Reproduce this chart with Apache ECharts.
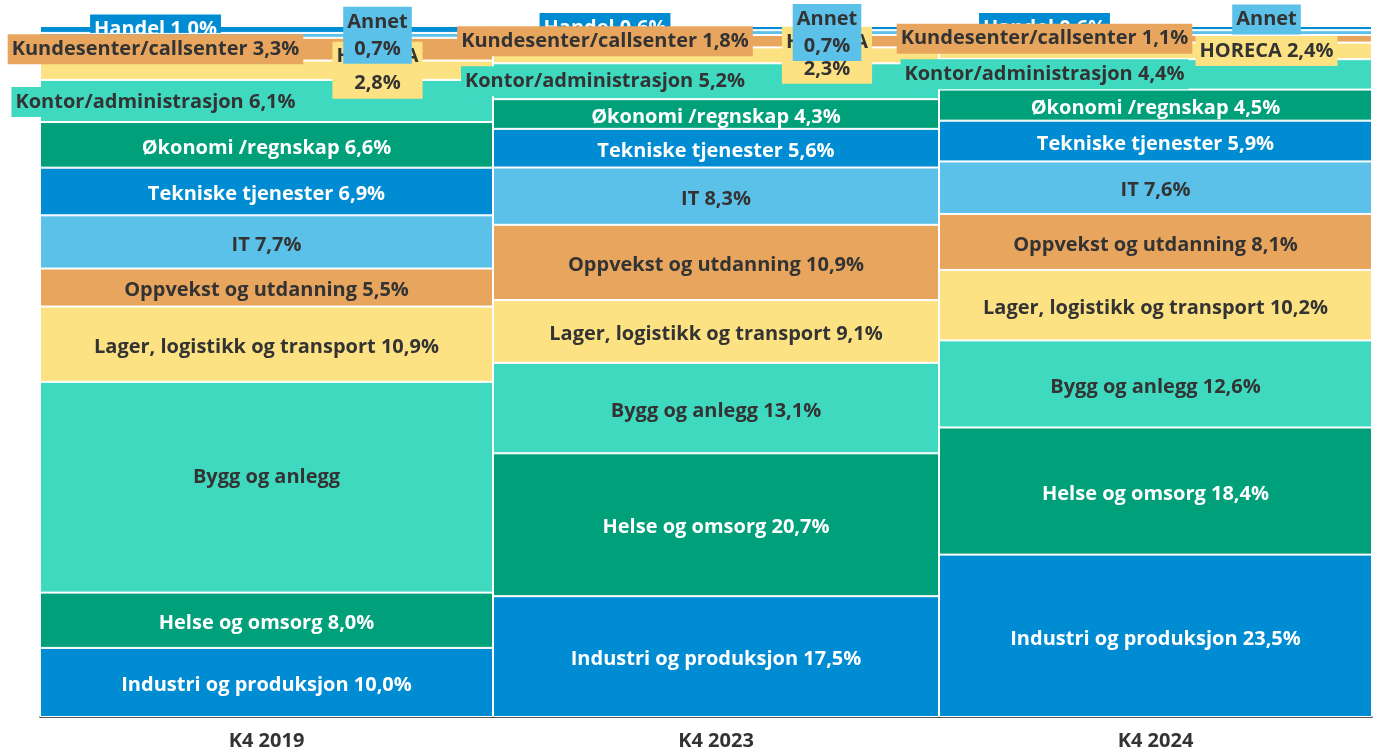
<!DOCTYPE html>
<html>
<head>
<meta charset="utf-8">
<script src="https://cdn.jsdelivr.net/npm/echarts@6/dist/echarts.min.js"></script>
<style>
html,body{margin:0;padding:0;background:#fff;}
#chart{width:1377px;height:754px;}
</style>
</head>
<body>
<div id="chart"></div>
<script>
const categories = ['K4 2019', 'K4 2023', 'K4 2024'];
const seriesNames = ['Industri og produksjon', 'Helse og omsorg', 'Bygg og anlegg',
  'Lager, logistikk og transport', 'Oppvekst og utdanning', 'IT', 'Tekniske tjenester',
  'Økonomi /regnskap', 'Kontor/administrasjon', 'HORECA', 'Kundesenter/callsenter', 'Annet', 'Handel'];
const industri = [10.0, 17.5, 23.5];
const helse = [8.0, 20.7, 18.4];
const bygg = [30.5, 13.1, 12.6];
const lager = [10.9, 9.1, 10.2];
const oppvekst = [5.5, 10.9, 8.1];
const it = [7.7, 8.3, 7.6];
const tekniske = [6.9, 5.6, 5.9];
const okonomi = [6.6, 4.3, 4.5];
const kontor = [6.1, 5.2, 4.4];
const horeca = [2.8, 2.3, 2.4];
const kundesenter = [3.3, 1.8, 1.1];
const annet = [0.7, 0.7, 0.7];
const handel = [1.0, 0.6, 0.6];

const values = [industri, helse, bygg, lager, oppvekst, it, tekniske, okonomi, kontor, horeca, kundesenter, annet, handel];

const palette = ['#008CD2', '#00A07A', '#3FD9C0', '#FDE283', '#E8A55E', '#5BC1E8'];
const darkText = '#333333';
const colors = values.map((_, i) => palette[i % 6]);
const textColors = colors.map(c => (c === '#008CD2' || c === '#00A07A') ? '#ffffff' : darkText);

const totals = categories.map((_, j) => values.reduce((s, arr) => s + arr[j], 0));
const fmt = v => v.toFixed(1).replace('.', ',') + '%';

// layout of the three columns (style only)
const colEdges = [40, 493, 939, 1372];
const OFF = 111;
const labelCfg = {
  'Handel': [{dx: -OFF}, {dx: -OFF}, {dx: -OFF}],
  'Kundesenter/callsenter': [{dx: -OFF}, {dx: -OFF}, {dx: -OFF}],
  'Kontor/administrasjon': [{dx: -OFF, dy: 1}, {dx: -OFF}, {dx: -OFF}],
  'HORECA': [{dx: OFF, br: true}, {dx: OFF, br: true}, {dx: OFF}],
  'Annet': [{dx: OFF, br: true}, {dx: OFF, br: true}, {dx: OFF, dy: -13, nameOnly: true}],
  'Bygg og anlegg': [{nameOnly: true, dy: -10}, {}, {}]
};
const zOrder = {'Handel': 1};

const grids = [], xAxes = [], yAxes = [], series = [];
categories.forEach((cat, j) => {
  grids.push({left: colEdges[j], width: colEdges[j + 1] - colEdges[j], top: 26, bottom: 37});
  xAxes.push({
    type: 'category', gridIndex: j, data: [cat],
    axisTick: {show: false},
    axisLine: {lineStyle: {color: '#222', width: 1.5}},
    axisLabel: {fontFamily: 'Open Sans', fontWeight: 'bold', fontSize: 20, color: darkText, margin: 14}
  });
  yAxes.push({type: 'value', gridIndex: j, min: 0, max: 100, show: false, splitLine: {show: false}});
  seriesNames.forEach((name, i) => {
    const cfg = (labelCfg[name] || [])[j] || {};
    const v = values[i][j];
    const text = cfg.nameOnly ? name : name + (cfg.br ? '\n' : ' ') + fmt(v);
    const shifted = !!cfg.dx;
    const dy = cfg.dy !== undefined ? cfg.dy : (shifted ? 0 : 3);
    series.push({
      name: name,
      type: 'bar',
      xAxisIndex: j,
      yAxisIndex: j,
      stack: 'total' + j,
      barCategoryGap: '0%',
      z: zOrder[name] || 2,
      itemStyle: {color: colors[i], borderColor: '#ffffff', borderWidth: 1},
      label: {
        show: true,
        position: 'inside',
        formatter: text,
        offset: [cfg.dx || 0, dy],
        fontFamily: 'Open Sans',
        fontWeight: 'bold',
        fontSize: 20,
        lineHeight: 27,
        color: textColors[i],
        backgroundColor: shifted ? colors[i] : 'transparent',
        padding: [2, 4, 1, 4]
      },
      emphasis: {disabled: true},
      data: [v / totals[j] * 100]
    });
  });
});

const chart = echarts.init(document.getElementById('chart'));
chart.setOption({
  animation: false,
  grid: grids,
  xAxis: xAxes,
  yAxis: yAxes,
  series: series
});
</script>
</body>
</html>
